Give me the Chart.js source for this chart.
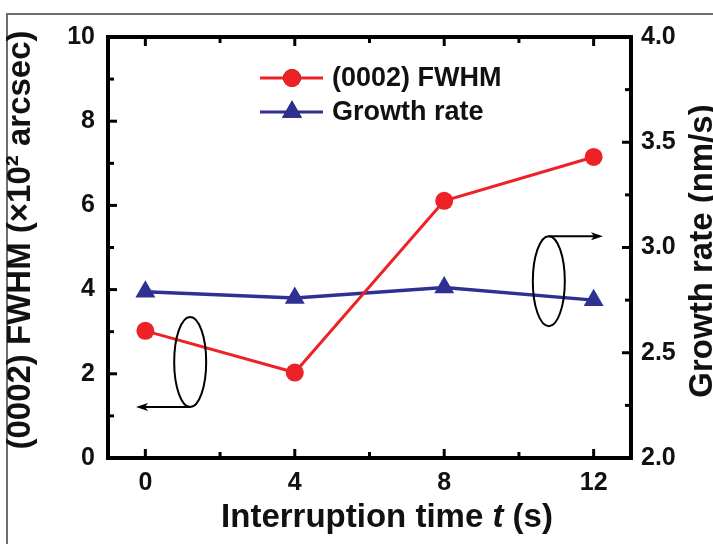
<!DOCTYPE html>
<html>
<head>
<meta charset="utf-8">
<script src="https://cdn.jsdelivr.net/npm/chart.js@4/dist/chart.umd.min.js"></script>
<style>
html, body { margin: 0; padding: 0; background: #fff; }
</style>
</head>
<body>
<canvas id="fwhmChart" width="713" height="544"></canvas>
<script>
// values
const times = [0, 4, 8, 12];
const fwhm = [3.02, 2.03, 6.11, 7.15];          // x10^2 arcsec
const growthRate = [2.79, 2.76, 2.81, 2.75];    // nm/s
const timeTicks = [0, 4, 8, 12];
const fwhmTicks = [0, 2, 4, 6, 8, 10];
const rateTicks = [2.0, 2.5, 3.0, 3.5, 4.0];
const seriesLabels = ['(0002) FWHM', 'Growth rate'];

const RED = '#ec2227';
const BLUE = '#2e3192';
const FONT = '"Liberation Sans", Arial, sans-serif';

function midpoints(arr) {
    const out = [];
    for (let i = 0; i < arr.length - 1; i++) out.push((arr[i] + arr[i + 1]) / 2);
    return out;
}

function setTicks(list) {
    return function (scale) { scale.ticks = list.map(v => ({ value: v })); };
}

// frame, axis box, inside ticks, titles, legend and the ellipse markers
const decorPlugin = {
    id: 'decor',
    beforeDraw(chart) {
        const ctx = chart.ctx;
        ctx.save();
        ctx.strokeStyle = '#6d6d6d';
        ctx.lineWidth = 2;
        ctx.beginPath();
        ctx.moveTo(7, 544);
        ctx.lineTo(7, 14);
        ctx.lineTo(713, 14);
        ctx.stroke();
        ctx.restore();
    },
    afterDatasetsDraw(chart) {
        const ctx = chart.ctx;
        const xs = chart.scales.x, yl = chart.scales.y, yr = chart.scales.y1;

        // ellipses with arrows
        ctx.save();
        ctx.strokeStyle = '#000';
        ctx.fillStyle = '#000';
        ctx.lineWidth = 2;
        function ring(cx, cy) {
            ctx.beginPath();
            ctx.ellipse(cx, cy, 16, 45, 0, 0, Math.PI * 2);
            ctx.stroke();
        }
        function arrow(x0, y0, x1) {
            const dir = Math.sign(x1 - x0);
            ctx.beginPath();
            ctx.moveTo(x0, y0);
            ctx.lineTo(x1 - dir * 8, y0);
            ctx.stroke();
            ctx.beginPath();
            ctx.moveTo(x1, y0);
            ctx.lineTo(x1 - dir * 12, y0 - 4);
            ctx.lineTo(x1 - dir * 9, y0);
            ctx.lineTo(x1 - dir * 12, y0 + 4);
            ctx.closePath();
            ctx.fill();
        }
        const lx = xs.getPixelForValue(1.2), ly = yl.getPixelForValue(2.28);
        ring(lx, ly);
        arrow(lx, ly + 45, xs.getPixelForValue(-0.25));
        const rx = xs.getPixelForValue(10.8), ry = yr.getPixelForValue(2.84);
        ring(rx, ry);
        arrow(rx, ry - 45, xs.getPixelForValue(12.25));
        ctx.restore();
    },
    afterDraw(chart) {
        const ctx = chart.ctx;
        const a = chart.chartArea;
        const xs = chart.scales.x, yl = chart.scales.y, yr = chart.scales.y1;
        ctx.save();
        ctx.strokeStyle = '#000';
        ctx.lineCap = 'butt';

        // inside ticks
        ctx.lineWidth = 3;
        function vTicks(vals, len) {
            vals.forEach(v => {
                const px = xs.getPixelForValue(v);
                ctx.beginPath();
                ctx.moveTo(px, a.top); ctx.lineTo(px, a.top + len);
                ctx.moveTo(px, a.bottom); ctx.lineTo(px, a.bottom - len);
                ctx.stroke();
            });
        }
        function hTicks(scale, vals, len, side) {
            vals.forEach(v => {
                const py = scale.getPixelForValue(v);
                ctx.beginPath();
                if (side === 'left') { ctx.moveTo(a.left, py); ctx.lineTo(a.left + len, py); }
                else { ctx.moveTo(a.right, py); ctx.lineTo(a.right - len, py); }
                ctx.stroke();
            });
        }
        vTicks(timeTicks, 9);
        vTicks(midpoints(timeTicks), 6);
        hTicks(yl, fwhmTicks, 9, 'left');
        hTicks(yl, midpoints(fwhmTicks), 6, 'left');
        hTicks(yr, rateTicks, 9, 'right');
        hTicks(yr, midpoints(rateTicks), 6, 'right');

        // axis box
        ctx.lineWidth = 4;
        ctx.lineJoin = 'miter';
        ctx.strokeRect(a.left, a.top, a.right - a.left, a.bottom - a.top);

        // titles
        ctx.fillStyle = '#111';
        ctx.textAlign = 'center';
        ctx.textBaseline = 'middle';
        ctx.font = 'bold 33px ' + FONT;
        ctx.save();
        ctx.translate(21, 240);
        ctx.rotate(-Math.PI / 2);
        ctx.fillText('(0002) FWHM (\u00d710\u00b2 arcsec)', 0, 0);
        ctx.restore();

        ctx.save();
        ctx.translate(703, 251);
        ctx.rotate(-Math.PI / 2);
        ctx.fillText('Growth rate (nm/s)', 0, 0);
        ctx.restore();

        // x title with italic t
        const parts = [
            ['Interruption time ', 'bold 33px ' + FONT],
            ['t', 'italic bold 33px ' + FONT],
            [' (s)', 'bold 33px ' + FONT]
        ];
        let total = 0;
        parts.forEach(p => { ctx.font = p[1]; total += ctx.measureText(p[0]).width; });
        let tx = 387 - total / 2;
        ctx.textAlign = 'left';
        parts.forEach(p => {
            ctx.font = p[1];
            ctx.fillText(p[0], tx, 518);
            tx += ctx.measureText(p[0]).width;
        });

        // legend
        const lgX = a.left + 152;
        const rows = [a.top + 41, a.top + 75];
        chart.data.datasets.forEach((ds, i) => {
            const y = rows[i];
            ctx.strokeStyle = ds.borderColor;
            ctx.lineWidth = 3;
            ctx.beginPath();
            ctx.moveTo(lgX, y); ctx.lineTo(lgX + 63, y);
            ctx.stroke();
            Chart.helpers.drawPoint(ctx, {
                pointStyle: ds.pointStyle, radius: ds.pointRadius, rotation: 0, borderWidth: 0
            }, lgX + 32, y);
            ctx.fillStyle = ds.backgroundColor;
            ctx.fill();
            ctx.fillStyle = '#111';
            ctx.font = 'bold 27px ' + FONT;
            ctx.textAlign = 'left';
            ctx.textBaseline = 'middle';
            ctx.fillText(ds.label, lgX + 72, y + 1);
        });
        ctx.restore();
    }
};

const tickFont = { family: FONT, size: 25, weight: 'bold' };

new Chart(document.getElementById('fwhmChart').getContext('2d'), {
    type: 'line',
    data: {
        datasets: [
            {
                label: seriesLabels[0],
                data: times.map((t, i) => ({ x: t, y: fwhm[i] })),
                yAxisID: 'y',
                borderColor: RED,
                backgroundColor: RED,
                borderWidth: 3,
                pointStyle: 'circle',
                pointRadius: 9,
                pointBorderWidth: 0
            },
            {
                label: seriesLabels[1],
                data: times.map((t, i) => ({ x: t, y: growthRate[i] })),
                yAxisID: 'y1',
                borderColor: BLUE,
                backgroundColor: BLUE,
                borderWidth: 3.5,
                pointStyle: 'triangle',
                pointRadius: 11.5,
                pointBorderWidth: 0
            }
        ]
    },
    options: {
        responsive: false,
        animation: false,
        layout: { padding: { top: 37, left: 0, right: 0, bottom: 0 } },
        plugins: {
            legend: { display: false },
            tooltip: { enabled: false }
        },
        scales: {
            x: {
                type: 'linear',
                min: -1, max: 13,
                afterBuildTicks: setTicks(timeTicks),
                afterFit(s) { s.height = 86; },
                grid: { display: false, drawTicks: false },
                border: { display: false },
                ticks: { font: tickFont, color: '#111', padding: 10 }
            },
            y: {
                position: 'left',
                min: 0, max: 10,
                afterBuildTicks: setTicks(fwhmTicks),
                afterFit(s) { s.width = 108; },
                grid: { display: false, drawTicks: false },
                border: { display: false },
                ticks: { font: tickFont, color: '#111', padding: 13 }
            },
            y1: {
                position: 'right',
                min: 2, max: 4,
                afterBuildTicks: setTicks(rateTicks),
                afterFit(s) { s.width = 82; },
                grid: { display: false, drawTicks: false },
                border: { display: false },
                ticks: { font: tickFont, color: '#111', padding: 10, callback: v => v.toFixed(1) }
            }
        }
    },
    plugins: [decorPlugin]
});
</script>
</body>
</html>
